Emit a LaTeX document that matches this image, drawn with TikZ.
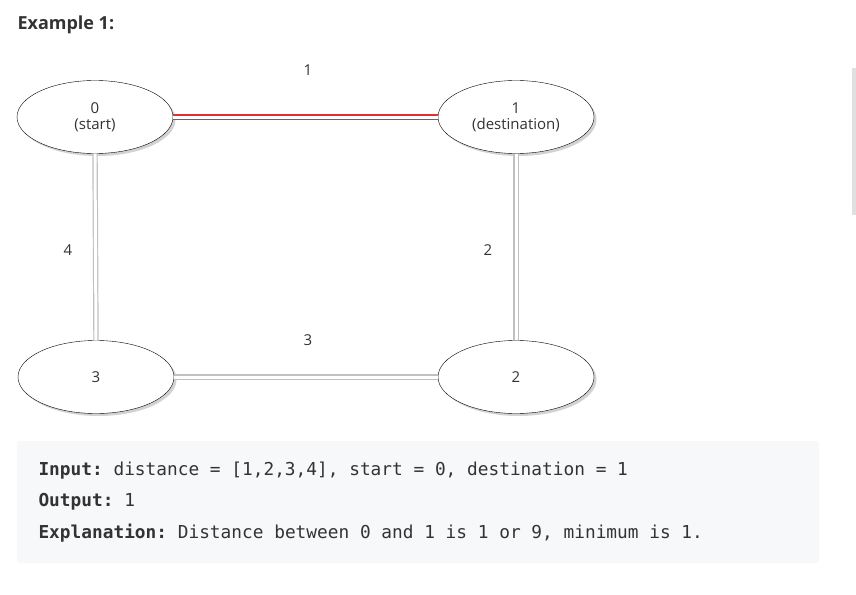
\documentclass[tikz,border=0pt]{standalone}
\usepackage{fontspec}
\setmainfont{Open Sans}
\setmonofont{DejaVu Sans Mono}
\usetikzlibrary{shadows,shapes.geometric}
\definecolor{boxbg}{HTML}{F7F8FA}
\definecolor{txt}{HTML}{333333}
\definecolor{edge}{HTML}{C0C0C0}
\definecolor{redge}{HTML}{E03030}
\tikzset{
 vert/.style={draw=black, fill=white, ellipse, minimum width=156pt, minimum height=73pt, inner sep=0pt, align=center, font=\fontsize{15}{16}\selectfont, text=txt, drop shadow={shadow xshift=2.5pt, shadow yshift=-2.5pt, fill=black!35}},
 gedge/.style={draw=edge, double=white, double distance=3pt, line width=1.2pt},
 redg/.style={draw=redge, double=white, double distance=3pt, line width=1.2pt},
 lbl/.style={font=\fontsize{15}{16}\selectfont, text=txt},
 codetxt/.style={anchor=west, font=\ttfamily\fontsize{17.8}{19}\selectfont, text=txt}
}
\begin{document}
\begin{tikzpicture}[x=1pt,y=-1pt]
\useasboundingbox (0,0) rectangle (856,594);
\node[anchor=west, font=\bfseries\fontsize{18}{20}\selectfont, text=txt] (title) at (14,25) {Example 1:};
\fill[black!12] (852,68) rectangle (856,215);
\node[vert] (n0) at (95,117) {0\\(start)};
\node[vert] (n1) at (516,117) {1\\(destination)};
\node[vert] (n3) at (96,377) {3};
\node[vert] (n2) at (516,377) {2};
\draw[redg] (n0.east) -- (n1.west);
\draw[gedge] (n0.south) -- (n3.north);
\draw[gedge] (n1.south) -- (n2.north);
\draw[gedge] (n3.east) -- (n2.west);
\node[lbl] (l1) at (308,70) {1};
\node[lbl] (l4) at (68,250) {4};
\node[lbl] (l2) at (488,250) {2};
\node[lbl] (l3) at (308,340) {3};
\fill[boxbg, rounded corners=3pt] (17,441) rectangle (819,563);
\node[codetxt] (c1) at (35,471) {\textbf{Input:} distance = [1,2,3,4], start = 0, destination = 1};
\node[codetxt] (c2) at (35,502) {\textbf{Output:} 1};
\node[codetxt] (c3) at (35,533) {\textbf{Explanation:} Distance between 0 and 1 is 1 or 9, minimum is 1.};
\end{tikzpicture}
\end{document}
